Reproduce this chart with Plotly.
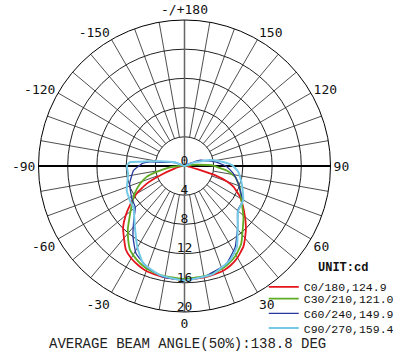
import plotly.graph_objects as go

# ---------------- data ----------------
radial_ticks = [0, 4, 8, 12, 16, 20]
angle_tickvals = [0, 30, 60, 90, 120, 150, 180, 210, 240, 270, 300, 330]
angle_ticktext = ["0", "30", "60", "90", "120", "150", "-/+180",
                  "-150", "-120", "-90", "-60", "-30"]

c0_theta = [-180, -120, -100, -90, -80, -75, -70, -65, -60, -55, -50, -45, -40,
            -35, -30, -25, -20, -15, -10, 0, 10, 15, 20, 25, 30, 36, 40, 45, 53,
            61, 67, 70, 73, 76, 80, 90, 100, 120, 180]
c0_r = [0, 0, 0.2, 0.3, 0.8, 1.5, 3.1, 5.7, 7.6, 9.0, 10.5, 11.9, 12.9,
        14.0, 14.6, 15.0, 15.3, 15.4, 15.5, 15.6, 15.5, 15.4, 15.3, 15.0, 14.5,
        13.7, 12.9, 11.9, 10.2, 8.7, 7.3, 6.2, 4.5, 1.8, 0.8, 0.3, 0.2, 0, 0]

c30_theta = [-180, -110, -100, -90, -85, -78, -74, -68, -61, -54, -47, -42,
             -37, -33, -28, -24, -18, -12, 0, 12, 18, 24, 30, 36, 42, 49, 59,
             69, 78, 84, 88, 91, 95, 100, 110, 180]
c30_r = [0, 0, 0.3, 0.8, 2.0, 3.9, 5.4, 6.6, 7.8, 8.9, 10.3, 11.6,
         12.8, 13.7, 14.3, 14.7, 15.1, 15.3, 15.5, 15.3, 15.1, 14.7, 14.1, 13.2,
         11.9, 10.7, 9.1, 8.1, 7.1, 5.8, 4.5, 3.9, 2.0, 0.8, 0, 0]

c60_theta = [-180, -120, -110, -100, -97, -94, -85, -72, -58, -50, -43, -36,
             -29, -20, -11, 0, 11, 13, 23, 32, 41, 50, 60, 62, 72, 81, 89, 97,
             110, 120, 130, 180]
c60_r = [0, 0, 1.4, 2.8, 4.7, 5.7, 7.0, 7.9, 8.5, 8.8, 10.2, 12.0,
         13.7, 14.8, 15.5, 15.6, 15.4, 15.2, 14.6, 13.1, 11.1, 9.5, 9.3, 8.9,
         7.75, 6.8, 5.8, 4.4, 2.3, 0.5, 0, 0]

c90_theta = [-180, -130, -110, -101, -97, -94, -90, -82, -67, -56, -51, -39,
             -30, -23, -13, 0, 15, 26, 33, 41, 50, 60, 73, 84, 91, 96, 103,
             110, 130, 180]
c90_r = [0, 0, 1.5, 3.4, 5.2, 7.5, 7.9, 7.8, 8.6, 8.9, 9.0, 10.8,
         12.9, 14.5, 15.3, 15.7, 15.3, 14.3, 13.2, 11.1, 9.6, 9.3, 8.2, 7.4,
         6.5, 5.3, 3.6, 1.5, 0, 0]

series_names = ["C0/180,124.9", "C30/210,121.0", "C60/240,149.9", "C90/270,159.4"]
series_colors = ["#e3141b", "#5fac24", "#27379b", "#73c9e6"]
series_widths = [1.8, 1.8, 1.3, 2.0]
legend_ids = ["legend", "legend2", "legend3", "legend4"]
legend_y = [0.086, 0.0455, -0.0045, -0.0548]

# ---------------- figure ----------------
fig = go.Figure()

# spokes every 10 degrees from r=4 to r=20
spoke_theta, spoke_r = [], []
for a in range(10, 360, 10):
    if a in (90, 180, 270):
        continue
    spoke_theta += [a, a, None]
    spoke_r += [radial_ticks[1], radial_ticks[-1], None]
fig.add_trace(go.Scatterpolar(theta=spoke_theta, r=spoke_r, mode="lines",
                              line=dict(color="#222", width=0.8),
                              hoverinfo="skip", showlegend=False))
# vertical 0/180 axis through centre
fig.add_trace(go.Scatterpolar(theta=[180, 180, 0, 0], r=[20, 0, 0, 20], mode="lines",
                              line=dict(color="#666", width=1.5),
                              hoverinfo="skip", showlegend=False))
# horizontal -90/90 axis through centre
fig.add_trace(go.Scatterpolar(theta=[-90, -90, 90, 90], r=[20, 0, 0, 20], mode="lines",
                              line=dict(color="black", width=2),
                              hoverinfo="skip", showlegend=False))

for th, rr, nm, col, w, lg in zip([c0_theta, c30_theta, c60_theta, c90_theta],
                                  [c0_r, c30_r, c60_r, c90_r],
                                  series_names, series_colors, series_widths,
                                  legend_ids):
    fig.add_trace(go.Scatterpolar(theta=th, r=rr, mode="lines", name=nm,
                                  legend=lg,
                                  line=dict(color=col, width=w, shape="spline",
                                            smoothing=0.4)))

# radial tick labels along the 0-degree axis, just inside each circle
lab_theta = [180] + [0] * (len(radial_ticks) - 1)
lab_r = [0.55] + [v - 0.6 for v in radial_ticks[1:]]
fig.add_trace(go.Scatterpolar(theta=lab_theta, r=lab_r, mode="text",
                              text=[str(v) for v in radial_ticks],
                              textposition="middle center",
                              textfont=dict(family="DejaVu Sans Mono", size=13, color="#111"),
                              hoverinfo="skip", showlegend=False))

legend_font = dict(family="Liberation Mono", size=11.5, color="#111")
legend_layouts = {}
for lg, ly in zip(legend_ids, legend_y):
    legend_layouts[lg] = dict(x=0.7705, y=ly, xanchor="left", yanchor="middle",
                              bgcolor="rgba(0,0,0,0)", font=legend_font)

fig.update_layout(
    width=404, height=360,
    margin=dict(l=38, r=73, t=20, b=48, autoexpand=False),
    paper_bgcolor="white",
    polar=dict(
        domain=dict(x=[0, 1], y=[0, 1]),
        bgcolor="white",
        angularaxis=dict(rotation=270, direction="counterclockwise",
                         tickmode="array", tickvals=angle_tickvals,
                         ticktext=angle_ticktext, showgrid=False,
                         showline=True, linecolor="black", linewidth=1,
                         ticks="",
                         tickfont=dict(family="DejaVu Sans Mono", size=13, color="#111")),
        radialaxis=dict(range=[0, 20], tickvals=radial_ticks[1:],
                        showticklabels=False, showline=False, ticks="",
                        gridcolor="#222", gridwidth=0.8, angle=270),
    ),
    showlegend=True,
    annotations=[
        dict(text="<b>UNIT:cd</b>", xref="paper", yref="paper",
             x=(343 - 38) / 293, y=(312 - 268) / 292,
             xanchor="center", yanchor="middle", showarrow=False,
             font=dict(family="Liberation Mono", size=12, color="#111")),
        dict(text="AVERAGE BEAM ANGLE(50%):138.8 DEG",
             xref="paper", yref="paper", x=0.51, y=-0.11,
             xanchor="center", yanchor="middle", showarrow=False,
             font=dict(family="Liberation Mono", size=14, color="#222")),
    ],
    **legend_layouts,
)

fig.write_html("out.html",
               config={"displayModeBar": False},
               post_script="document.body.style.margin='0';")
